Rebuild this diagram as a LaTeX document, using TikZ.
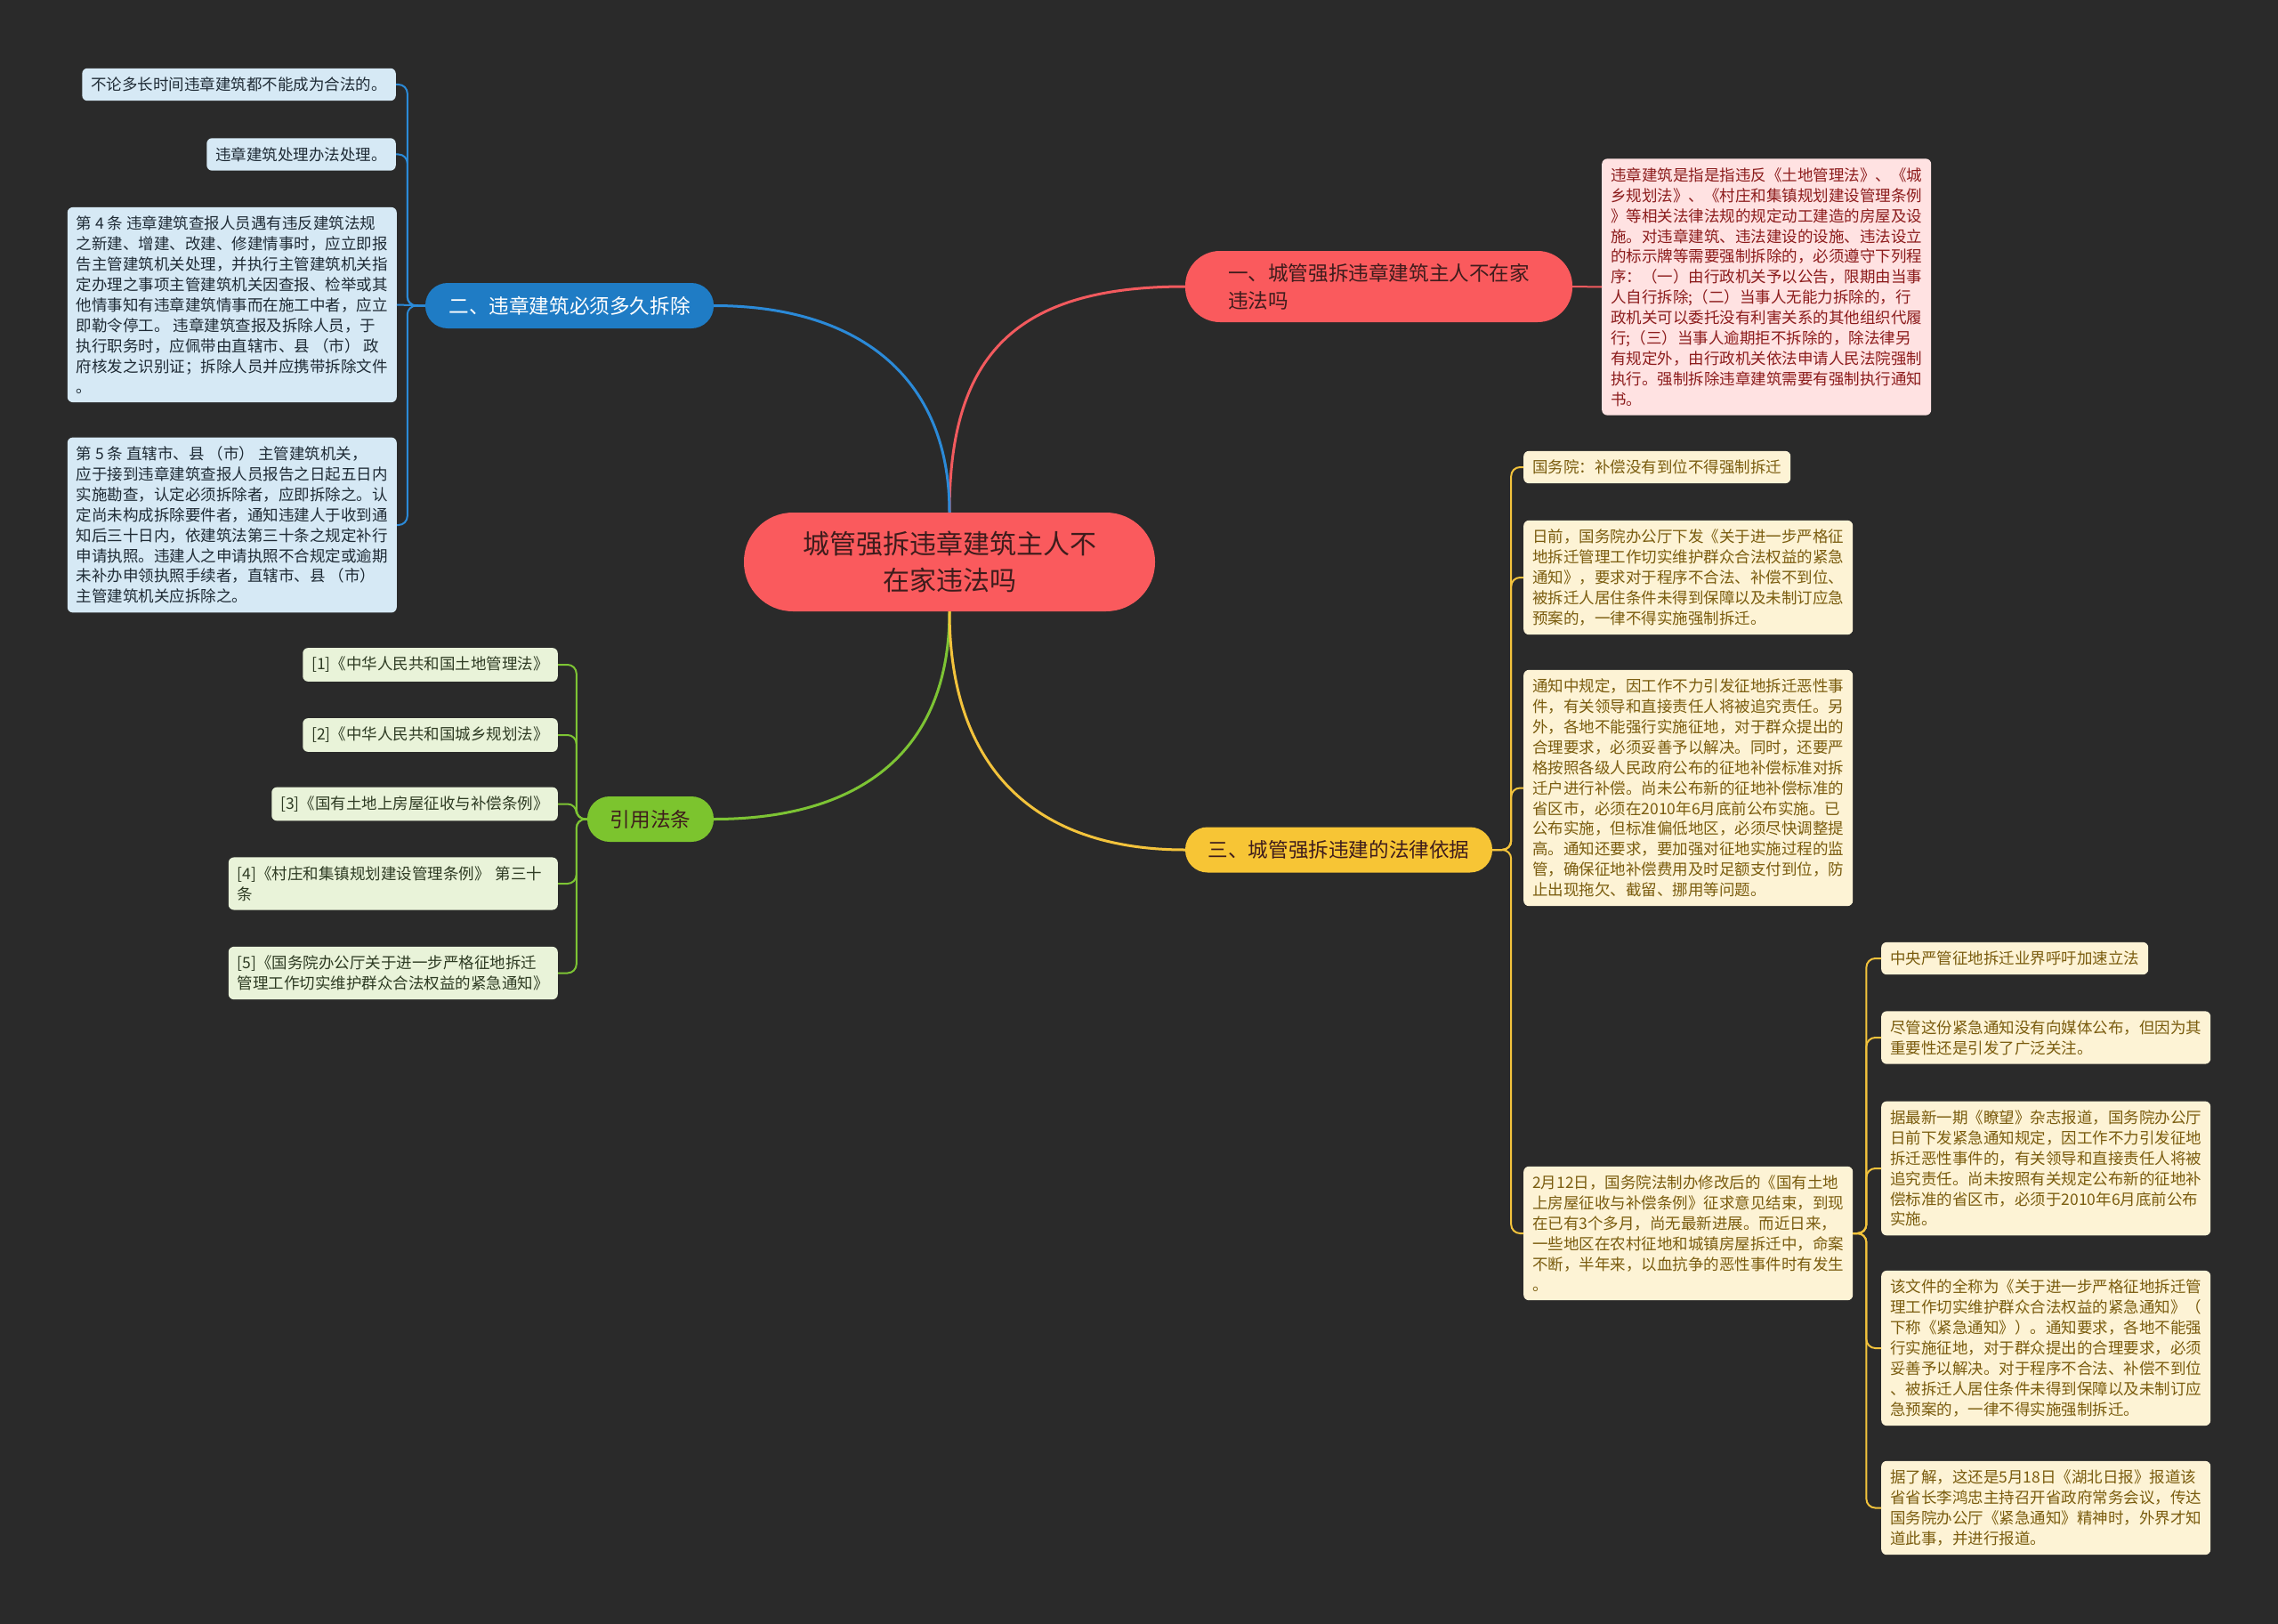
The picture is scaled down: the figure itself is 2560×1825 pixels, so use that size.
\documentclass[tikz,border=0pt]{standalone}
\usepackage{fontspec}
\setmainfont{Noto Sans CJK SC}
\definecolor{bgc}{HTML}{2A2A2A}
\definecolor{redc}{HTML}{FA5A5D}
\definecolor{redt}{HTML}{3E1C1C}
\definecolor{bluec}{HTML}{1F7CC5}
\definecolor{greenc}{HTML}{7CC42E}
\definecolor{yellowc}{HTML}{F7C535}
\definecolor{bleafc}{HTML}{D6E9F5}
\definecolor{gleafc}{HTML}{E9F3D9}
\definecolor{yleafc}{HTML}{FDF3D5}
\definecolor{pleafc}{HTML}{FFE2E2}
\definecolor{btxt}{HTML}{1F2B35}
\definecolor{gtxt}{HTML}{2E3B23}
\definecolor{ytxt}{HTML}{7A5C0E}
\definecolor{ptxt}{HTML}{8C1C1C}
\definecolor{bline}{HTML}{2B8AD8}
\definecolor{rline}{HTML}{F25A5E}
\definecolor{gline}{HTML}{7DC434}
\definecolor{yline}{HTML}{F3C33C}
\begin{document}
\begin{tikzpicture}[x=1pt, y=-1pt,
    leaf/.style={rounded corners=6pt, inner xsep=10pt, inner ysep=10pt, align=left,
      font=\fontsize{17.5}{22.9}\selectfont},
    bleaf/.style={leaf, fill=bleafc, text=btxt, anchor=east},
    gleaf/.style={leaf, fill=gleafc, text=gtxt, anchor=east},
    yleaf/.style={leaf, fill=yleafc, text=ytxt, anchor=west},
    pleaf/.style={leaf, fill=pleafc, text=ptxt, anchor=west},
    pill/.style={rounded corners=25pt, minimum height=51pt, inner sep=0pt, align=center,
      font=\fontsize{22.6}{31}\selectfont},
    main/.style={line width=3pt},
    sub/.style={line width=2pt, rounded corners=10pt}]
  \fill[bgc] (0,0) rectangle (2560,1825);
  \useasboundingbox (0,0) rectangle (2560,1825);

  \node[fill=redc, text=redt, rounded corners=55pt, minimum width=462pt, minimum height=111pt,
    align=center, font=\fontsize{30}{41}\selectfont] (c) at (1067,631.5)
    {城管强拆违章建筑主人不\\在家违法吗};

  \node[pill, fill=redc, text=redt, minimum width=435pt, minimum height=80pt, rounded corners=39pt,
    align=left] (p1) at (1549.5,322) {一、城管强拆违章建筑主人不在家\\违法吗};
  \node[pill, fill=bluec, text=white, minimum width=324pt] (p2) at (640,343.5) {二、违章建筑必须多久拆除};
  \node[pill, fill=greenc, text=redt, minimum width=142pt] (p3) at (731,920.5) {引用法条};
  \node[pill, fill=yellowc, text=redt, minimum width=345pt] (p4) at (1504.5,955) {三、城管强拆违建的法律依据};

  \node[pleaf] (pk) at (1800,322.5) {违章建筑是指是指违反《土地管理法》、《城\\
    乡规划法》、《村庄和集镇规划建设管理条例\\
    》等相关法律法规的规定动工建造的房屋及设\\
    施。对违章建筑、违法建设的设施、违法设立\\
    的标示牌等需要强制拆除的，必须遵守下列程\\
    序：（一）由行政机关予以公告，限期由当事\\
    人自行拆除;（二）当事人无能力拆除的，行\\
    政机关可以委托没有利害关系的其他组织代履\\
    行;（三）当事人逾期拒不拆除的，除法律另\\
    有规定外，由行政机关依法申请人民法院强制\\
    执行。强制拆除违章建筑需要有强制执行通知\\
    书。};

  \node[bleaf] (l1) at (445,95) {不论多长时间违章建筑都不能成为合法的。};
  \node[bleaf] (l2) at (445,173.5) {违章建筑处理办法处理。};
  \node[bleaf] (l3) at (446,342.5) {第 4 条 违章建筑查报人员遇有违反建筑法规\\
    之新建、增建、改建、修建情事时，应立即报\\
    告主管建筑机关处理，并执行主管建筑机关指\\
    定办理之事项主管建筑机关因查报、检举或其\\
    他情事知有违章建筑情事而在施工中者，应立\\
    即勒令停工。 违章建筑查报及拆除人员，于\\
    执行职务时，应佩带由直辖市、县 （市） 政\\
    府核发之识别证；拆除人员并应携带拆除文件\\
    。};
  \node[bleaf] (l4) at (446,590) {第 5 条 直辖市、县 （市） 主管建筑机关，\\
    应于接到违章建筑查报人员报告之日起五日内\\
    实施勘查，认定必须拆除者，应即拆除之。认\\
    定尚未构成拆除要件者，通知违建人于收到通\\
    知后三十日内，依建筑法第三十条之规定补行\\
    申请执照。违建人之申请执照不合规定或逾期\\
    未补办申领执照手续者，直辖市、县 （市）\\
    主管建筑机关应拆除之。};

  \node[gleaf] (g1) at (627,747) {[1]《中华人民共和国土地管理法》};
  \node[gleaf] (g2) at (627,826) {[2]《中华人民共和国城乡规划法》};
  \node[gleaf] (g3) at (627,903.5) {[3]《国有土地上房屋征收与补偿条例》};
  \node[gleaf, text width=350pt] (g4) at (627,993) {[4]《村庄和集镇规划建设管理条例》 第三十\\条};
  \node[gleaf] (g5) at (627,1093.5) {[5]《国务院办公厅关于进一步严格征地拆迁\\
    管理工作切实维护群众合法权益的紧急通知》};

  \node[yleaf] (y1) at (1712,525) {国务院：补偿没有到位不得强制拆迁};
  \node[yleaf] (y2) at (1712,649) {日前，国务院办公厅下发《关于进一步严格征\\
    地拆迁管理工作切实维护群众合法权益的紧急\\
    通知》，要求对于程序不合法、补偿不到位、\\
    被拆迁人居住条件未得到保障以及未制订应急\\
    预案的，一律不得实施强制拆迁。};
  \node[yleaf] (y3) at (1712,885.5) {通知中规定，因工作不力引发征地拆迁恶性事\\
    件，有关领导和直接责任人将被追究责任。另\\
    外，各地不能强行实施征地，对于群众提出的\\
    合理要求，必须妥善予以解决。同时，还要严\\
    格按照各级人民政府公布的征地补偿标准对拆\\
    迁户进行补偿。尚未公布新的征地补偿标准的\\
    省区市，必须在2010年6月底前公布实施。已\\
    公布实施，但标准偏低地区，必须尽快调整提\\
    高。通知还要求，要加强对征地实施过程的监\\
    管，确保征地补偿费用及时足额支付到位，防\\
    止出现拖欠、截留、挪用等问题。};
  \node[yleaf] (y4) at (1712,1386) {2月12日，国务院法制办修改后的《国有土地\\
    上房屋征收与补偿条例》征求意见结束，到现\\
    在已有3个多月，尚无最新进展。而近日来，\\
    一些地区在农村征地和城镇房屋拆迁中，命案\\
    不断，半年来，以血抗争的恶性事件时有发生\\
    。};

  \node[yleaf] (z1) at (2114,1077) {中央严管征地拆迁业界呼吁加速立法};
  \node[yleaf] (z2) at (2114,1166) {尽管这份紧急通知没有向媒体公布，但因为其\\
    重要性还是引发了广泛关注。};
  \node[yleaf] (z3) at (2114,1313) {据最新一期《瞭望》杂志报道，国务院办公厅\\
    日前下发紧急通知规定，因工作不力引发征地\\
    拆迁恶性事件的，有关领导和直接责任人将被\\
    追究责任。尚未按照有关规定公布新的征地补\\
    偿标准的省区市，必须于2010年6月底前公布\\
    实施。};
  \node[yleaf] (z4) at (2114,1515) {该文件的全称为《关于进一步严格征地拆迁管\\
    理工作切实维护群众合法权益的紧急通知》（\\
    下称《紧急通知》）。通知要求，各地不能强\\
    行实施征地，对于群众提出的合理要求，必须\\
    妥善予以解决。对于程序不合法、补偿不到位\\
    、被拆迁人居住条件未得到保障以及未制订应\\
    急预案的，一律不得实施强制拆迁。};
  \node[yleaf] (z5) at (2114,1694.5) {据了解，这还是5月18日《湖北日报》报道该\\
    省省长李鸿忠主持召开省政府常务会议，传达\\
    国务院办公厅《紧急通知》精神时，外界才知\\
    道此事，并进行报道。};

  \draw[main, rline] (c.north) .. controls +(0,-176) and +(-192,0) .. (p1.west);
  \draw[main, bline] (c.north) .. controls +(0,-156) and +(158,0) .. (p2.east);
  \draw[main, gline] (c.south) .. controls +(0,163) and +(158,0) .. (p3.east);
  \draw[main, yline] (c.south) .. controls +(0,173) and +(-172,0) .. (p4.west);

  \draw[sub, rline] (p1.east) -- (pk.west);
  \foreach \n in {l1,l2,l4}
    \draw[sub, bline] (p2.west) -- ++(-20,0) |- (\n.east);
  \draw[sub, bline] (p2.west) -- (l3.east);
  \foreach \n in {g1,g2,g3,g4,g5}
    \draw[sub, gline] (p3.west) -- ++(-12,0) |- (\n.east);
  \foreach \n in {y1,y2,y3,y4}
    \draw[sub, yline] (p4.east) -- ++(21,0) |- (\n.west);
  \foreach \n in {z1,z2,z3,z4,z5}
    \draw[sub, yline] (y4.east) -- ++(15,0) |- (\n.west);
\end{tikzpicture}
\end{document}
